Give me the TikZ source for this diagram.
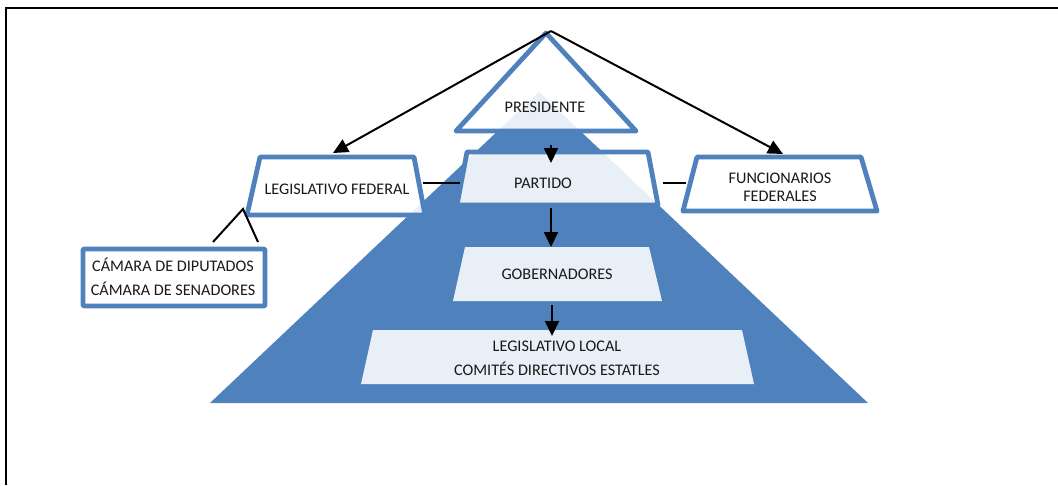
\documentclass[tikz,border=0pt]{standalone}
\usepackage{fontspec}
\setmainfont{Carlito}
\usetikzlibrary{arrows.meta}
\definecolor{pblue}{HTML}{4F81BD}
\begin{document}
\begin{tikzpicture}[x=1pt,y=-1pt,
 box/.style={draw=pblue,line width=4.8pt,line join=round,fill=white,fill opacity=0.88,draw opacity=1},
 plainbox/.style={fill=white,fill opacity=0.88},
 lbl/.style={font=\fontsize{16.2}{24}\selectfont,text=black!90,align=center,inner sep=0pt},
 link/.style={draw=black,line width=2pt},
 arr/.style={link,-{Triangle[length=15pt,width=14pt]}}]
\useasboundingbox (0,0) rectangle (1058,485);
% frame
\draw[line width=2pt] (6,485) -- (6,8) -- (1058,8);
% pyramid
\fill[pblue] (210,403) -- (539,92) -- (868,403) -- cycle;
% shapes
\draw[box] (546,33) -- (636,131) -- (456,131) -- cycle;
\draw[box] (467,152) -- (648,152) -- (658,205) -- (457,205) -- cycle;
\draw[box] (260,157) -- (414,157) -- (425,215) -- (247,215) -- cycle;
\draw[box] (697,157) -- (861,157) -- (877,211) -- (683,211) -- cycle;
\draw[box,rounded corners=1pt] (83,249) rectangle (265,306);
\fill[plainbox] (465,247) -- (649,247) -- (662,301) -- (453,301) -- cycle;
\fill[plainbox] (373,330) -- (742,330) -- (754,384) -- (361,384) -- cycle;
% labels
\node[lbl] (pres) at (545,107) {PRESIDENTE};
\node[lbl] (part) at (543,183) {PARTIDO};
\node[lbl] (gob) at (557,274) {GOBERNADORES};
\node[lbl] (lloc) at (557,358) {LEGISLATIVO LOCAL\\COMITÉS DIRECTIVOS ESTATLES};
\node[lbl] (lfed) at (337,189) {LEGISLATIVO FEDERAL};
\node[lbl,font=\fontsize{16.2}{18}\selectfont] (func) at (780,187) {FUNCIONARIOS\\FEDERALES};
\node[lbl] (cam) at (173,277) {CÁMARA DE DIPUTADOS\\CÁMARA DE SENADORES};
% connector points
\coordinate (apex) at (551,31);
\coordinate (lfedtop) at (333,153);
\coordinate (functop) at (783,154);
\coordinate (lfedE) at (423,183);
\coordinate (partW) at (460,183);
\coordinate (partE) at (663,183);
\coordinate (funcW) at (686,183);
\coordinate (va) at (213,242);
\coordinate (vb) at (243,209);
\coordinate (vc) at (258,242);
\coordinate (presB) at (551,145);
\coordinate (partT) at (551,163);
\coordinate (partB) at (551,208);
\coordinate (gobT) at (551,247);
\coordinate (gobB) at (552,305);
\coordinate (llocT) at (552,336);
% connectors
\draw[arr] (apex) -- (lfedtop);
\draw[arr] (apex) -- (functop);
\draw[link] (lfedE) -- (partW);
\draw[link] (partE) -- (funcW);
\draw[link] (va) -- (vb) -- (vc);
\draw[arr] (presB) -- (partT);
\draw[arr] (partB) -- (gobT);
\draw[arr] (gobB) -- (llocT);
\end{tikzpicture}
\end{document}
